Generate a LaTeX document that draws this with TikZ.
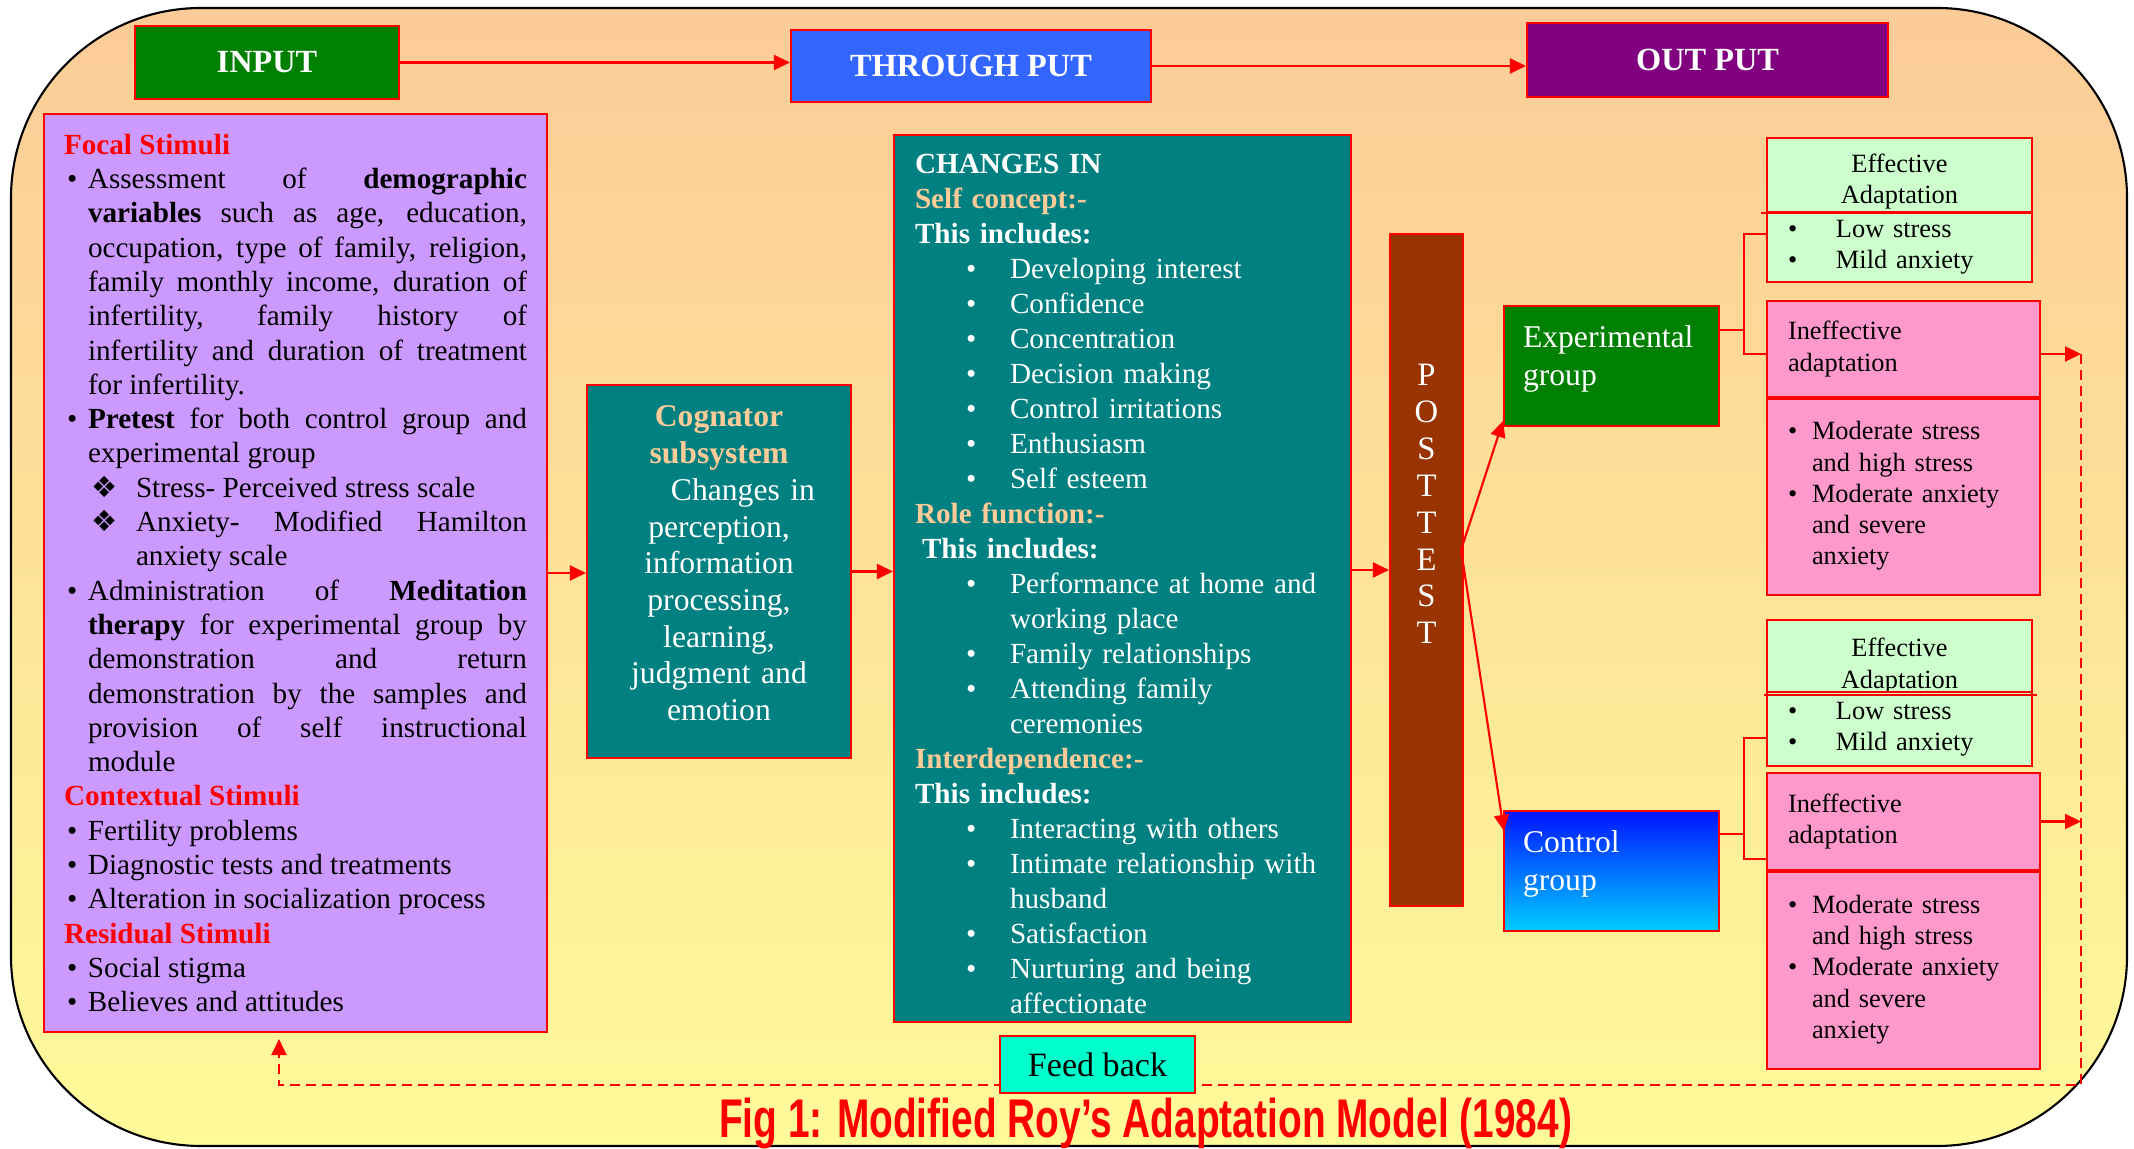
\documentclass[tikz,border=0pt]{standalone}
\usepackage{fontspec}
\setmainfont{Liberation Serif}
\newfontfamily\titlefont{Liberation Sans}
\newfontfamily\symfont{DejaVu Sans}
\usepackage{xcolor}
\usepackage{graphicx}
\usetikzlibrary{arrows.meta, calc}

\definecolor{bgtop}{HTML}{FCCB98}
\definecolor{bgbot}{HTML}{FFFB99}
\definecolor{ingreen}{HTML}{008000}
\definecolor{thrublue}{HTML}{3366FF}
\definecolor{outpurple}{HTML}{800080}
\definecolor{lavender}{HTML}{CC99FF}
\definecolor{tealbox}{HTML}{008080}
\definecolor{peach}{HTML}{FFCC99}
\definecolor{brownbar}{HTML}{993300}
\definecolor{effgreen}{HTML}{CCFFCC}
\definecolor{ineffpink}{HTML}{FF99CC}
\definecolor{fbcyan}{HTML}{00FFCC}
\definecolor{ctrltop}{HTML}{0014FF}
\definecolor{ctrlbot}{HTML}{00CCFF}

\newcommand{\bul}{\noindent\hangindent=2.4mm\makebox[2.4mm][l]{\hspace{0.3mm}\textbullet}\ignorespaces}
\newcommand{\subbul}{\noindent\hangindent=7.2mm\makebox[7.2mm][l]{\hspace{2.7mm}{\symfont ❖}}\ignorespaces}
\newcommand{\stimhd}[1]{\noindent\textcolor{red}{\textbf{#1}}\par}
\newcommand{\chg}{\hspace*{5.1mm}\makebox[4.4mm][l]{\textbullet}}
\newcommand{\chgc}{\hspace*{9.5mm}}
\newcommand{\peachhd}[1]{\textcolor{peach}{\textbf{#1}}}
\newcommand{\effb}{\makebox[4.8mm][l]{\textbullet}}
\newcommand{\ineffb}{\makebox[2.4mm][l]{\textbullet}}
\newcommand{\ineffc}{\hspace*{2.4mm}}

\begin{document}
\begin{tikzpicture}[x=0.1mm, y=-0.1mm,
  redline/.style={red, line width=0.6pt},
  arr/.style={redline, -{Triangle[length=1.6mm,width=1.5mm]}},
  fbline/.style={red, line width=0.6pt, dash pattern=on 1mm off 0.6mm},
  rbox/.style={draw=red, line width=0.6pt, inner ysep=0pt},
  headbox/.style={rbox, text=white, font=\fontsize{9.2}{11}\selectfont\bfseries},
  stimbox/.style={rbox, fill=lavender, text width=46.3mm, inner xsep=2mm, align=justify, font=\fontsize{8.3}{9.76}\selectfont},
  changebox/.style={rbox, fill=tealbox, text=white, text width=41.5mm, inner xsep=2.1mm, align=left, font=\fontsize{8.3}{9.96}\selectfont},
  cognbox/.style={rbox, fill=tealbox, text=white, text width=24mm, inner xsep=1.2mm, align=center, font=\fontsize{9}{10.45}\selectfont},
  grpbox/.style={rbox, text=white, text width=17.7mm, inner xsep=1.9mm, minimum height=12mm, align=left, font=\fontsize{9}{10.8}\selectfont},
  effhead/.style={rbox, fill=effgreen, text width=22.3mm, inner xsep=2.1mm, align=center, font=\fontsize{7.5}{8.9}\selectfont},
  effbody/.style={rbox, fill=effgreen, text width=22.3mm, inner xsep=2.1mm, align=left, font=\fontsize{7.5}{8.9}\selectfont},
  ineffbox/.style={rbox, fill=ineffpink, text width=23.1mm, inner xsep=2.1mm, align=left, font=\fontsize{7.5}{8.9}\selectfont}]

  \useasboundingbox (0,0) rectangle (2134,1149);
  \draw[black, line width=0.6pt, rounded corners=19mm, top color=bgtop, bottom color=bgbot] (11,8) rectangle (2127,1146);

  \node[headbox, fill=ingreen, minimum width=26.4mm, minimum height=7.3mm] (input) at (267,62.5) {INPUT};
  \node[headbox, fill=thrublue, minimum width=36mm, minimum height=7.2mm] (through) at (971,66) {THROUGH PUT};
  \node[headbox, fill=outpurple, minimum width=36.1mm, minimum height=7.4mm] (output) at (1707.5,60) {OUT PUT};

  \node[stimbox, minimum height=91.8mm] (stimuli) at (295.5,573) {%
    \stimhd{Focal Stimuli}
    \bul Assessment of \textbf{demographic}\linebreak
    \textbf{variables} such as age, education,\linebreak
    occupation, type of family, religion,\linebreak
    family monthly income, duration of\linebreak
    infertility, family history of\linebreak
    infertility and duration of treatment\linebreak
    for infertility.\par
    \bul \textbf{Pretest} for both control group and\linebreak
    experimental group\par
    \subbul Stress- Perceived stress scale\par
    \subbul Anxiety- Modified Hamilton\linebreak
    anxiety scale\par
    \bul Administration of \textbf{Meditation}\linebreak
    \textbf{therapy} for experimental group by\linebreak
    demonstration and return\linebreak
    demonstration by the samples and\linebreak
    provision of self instructional\linebreak
    module\par
    \stimhd{Contextual Stimuli}
    \bul Fertility problems\par
    \bul Diagnostic tests and treatments\par
    \bul Alteration in socialization process\par
    \stimhd{Residual Stimuli}
    \bul Social stigma\par
    \bul Believes and attitudes\par};

  \node[cognbox, minimum height=37.3mm] (cognator) at (719,571.5) {%
    \textcolor{peach}{\textbf{Cognator}}\\
    \textcolor{peach}{\textbf{subsystem}}\\
    \hspace*{4.8mm}Changes in\\
    perception,\\
    information\\
    processing,\\
    learning,\\
    judgment and\\
    emotion\par\vspace*{1.6mm}};

  \node[changebox, minimum height=88.7mm] (changes) at (1122.5,578.5) {%
    \mbox{}\\[-1.4pt]
    \textbf{CHANGES IN}\\
    \peachhd{Self concept:-}\\
    \textbf{This includes:}\\
    \chg Developing interest\\
    \chg Confidence\\
    \chg Concentration\\
    \chg Decision making\\
    \chg Control irritations\\
    \chg Enthusiasm\\
    \chg Self esteem\\
    \peachhd{Role function:-}\\
    \hspace*{0.7mm}\textbf{This includes:}\\
    \chg Performance at home and\\
    \chgc working place\\
    \chg Family relationships\\
    \chg Attending family\\
    \chgc ceremonies\\
    \peachhd{Interdependence:-}\\
    \textbf{This includes:}\\
    \chg Interacting with others\\
    \chg Intimate relationship with\\
    \chgc husband\\
    \chg Satisfaction\\
    \chg Nurturing and being\\
    \chgc affectionate};

  \node[rbox, fill=brownbar, minimum width=7.3mm, minimum height=67.2mm] (posttest) at (1426.5,570) {};
  \node[text=white, align=center, font=\fontsize{9.3}{10.5}\selectfont] (ptext) at (1426.5,504) {P\\O\\S\\T\\T\\E\\S\\T};

  \node[grpbox, fill=ingreen] (expgrp) at (1611.5,366) {Experimental\\group\par\vspace*{1.4mm}};
  \node[grpbox, top color=ctrltop, bottom color=ctrlbot] (ctrlgrp) at (1611.5,871) {Control\\group\par\vspace*{1.4mm}};

  \node[effhead, minimum height=7.4mm] (eff1head) at (1899.5,175) {\mbox{}\\Effective\\Adaptation};
  \node[effbody, minimum height=7mm] (eff1body) at (1899.5,247) {\effb Low stress\\\effb Mild anxiety};
  \node[ineffbox, minimum height=9.6mm] (ineff1head) at (1903.5,349) {Ineffective\\adaptation};
  \node[ineffbox, minimum height=19.8mm] (ineff1body) at (1903.5,496) {%
    \ineffb Moderate stress\\\ineffc and high stress\\\ineffb Moderate anxiety\\\ineffc and severe\\\ineffc anxiety};

  \node[effhead, minimum height=7mm] (eff2head) at (1899.5,657) {\mbox{}\\[1.6pt]Effective\\Adaptation};
  \node[effbody, minimum height=7.4mm] (eff2body) at (1899.5,729) {\effb Low stress\\\effb Mild anxiety};
  \node[ineffbox, minimum height=9.7mm] (ineff2head) at (1903.5,821.5) {Ineffective\\adaptation};
  \node[ineffbox, minimum height=19.9mm] (ineff2body) at (1903.5,969.5) {%
    \ineffb Moderate stress\\\ineffc and high stress\\\ineffb Moderate anxiety\\\ineffc and severe\\\ineffc anxiety};

  \draw[redline] ([xshift=-0.5mm]eff1head.south west) -- (eff1head.south east);
  \draw[redline] ([xshift=-0.2mm]eff2head.south west) -- ([xshift=0.4mm]eff2head.south east);
  \draw[red, line width=1.2pt] (ineff1head.south west) -- (ineff1head.south east);
  \draw[red, line width=1.2pt] (ineff2head.south west) -- (ineff2head.south east);

  \draw[arr] (input.east) -- (input.east -| through.west);
  \draw[arr] (through.east) -- (through.east -| output.west);
  \draw[arr] (stimuli.east) -- (stimuli.east -| cognator.west);
  \draw[arr] (cognator.east) -- (cognator.east -| changes.west);
  \draw[arr] (posttest.west -| changes.east) -- (posttest.west);

  \coordinate (ptout) at ([xshift=-0.3mm,yshift=2mm]posttest.east);
  \draw[arr] (ptout) -- ([yshift=0.6mm]expgrp.south west);
  \draw[arr] (ptout) -- ([xshift=0.1mm,yshift=-2.1mm]ctrlgrp.north west);

  \coordinate (expfork) at ([xshift=2.4mm,yshift=3.6mm]expgrp.east);
  \draw[redline] ([yshift=3.6mm]expgrp.east) -- (expfork);
  \draw[redline] ([yshift=1.3mm]eff1body.west) -| (expfork) |- ([yshift=-0.5mm]ineff1head.west);

  \coordinate (ctrlfork) at ([xshift=2.4mm,yshift=3.7mm]ctrlgrp.east);
  \draw[redline] ([yshift=3.7mm]ctrlgrp.east) -- (ctrlfork);
  \draw[redline] ([yshift=-0.9mm]eff2body.west) -| (ctrlfork) |- ([yshift=-3.75mm]ineff2head.west);

  \coordinate (fbtop) at (2081,354);
  \coordinate (fbcorner) at (279,1085);
  \draw[arr] ([yshift=-0.5mm]ineff1head.east) -- ([yshift=-0.5mm]ineff1head.east -| fbtop);
  \draw[arr] (ineff2head.east) -- (ineff2head.east -| fbtop);
  \draw[fbline, -{Triangle[length=1.6mm,width=1.5mm]}] (fbtop) |- (fbcorner) -- ([yshift=-0.6mm]stimuli.south -| fbcorner);

  \node[rbox, fill=fbcyan, minimum width=19.5mm, minimum height=5.7mm, font=\fontsize{9.7}{11}\selectfont] (feedback) at (1097.5,1064.5) {Feed back};

  \node[anchor=base, text=red, inner sep=0pt, font=\titlefont\bfseries\fontsize{15.5}{18}\selectfont] (title) at (1145.5,1138)
    {\resizebox{85.3mm}{\height}{Fig 1: Modified Roy’s Adaptation Model (1984)}};

\end{tikzpicture}
\end{document}
